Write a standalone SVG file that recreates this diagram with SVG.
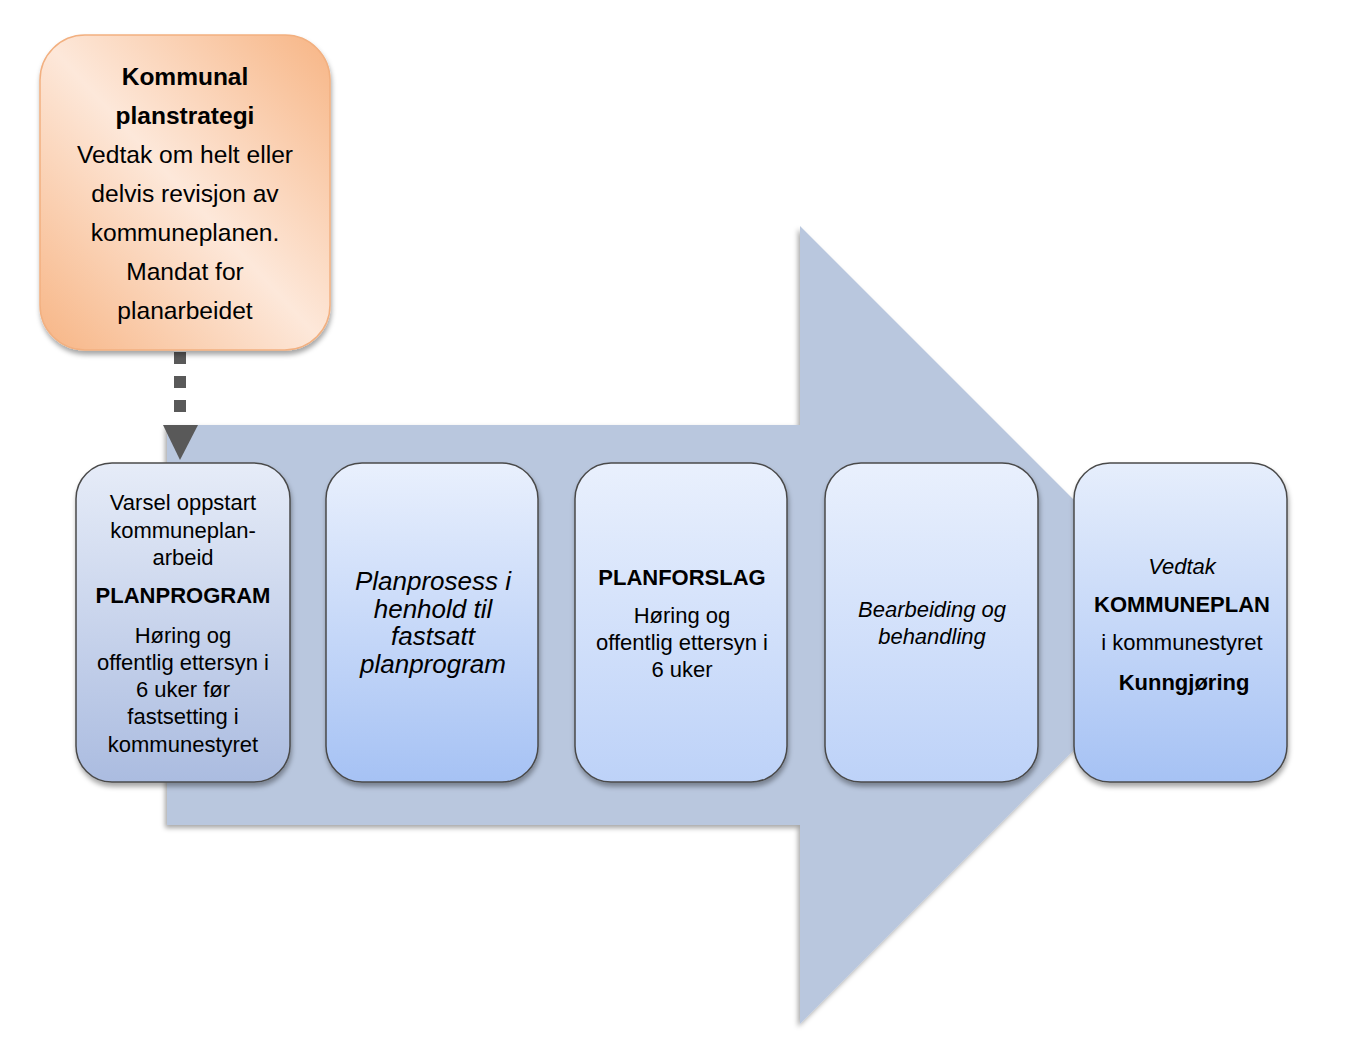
<svg xmlns="http://www.w3.org/2000/svg" width="1346" height="1052" viewBox="0 0 1346 1052">
<defs>
<filter id="sh" x="-10%" y="-10%" width="120%" height="120%">
<feDropShadow dx="-2" dy="3" stdDeviation="2.5" flood-color="#000" flood-opacity="0.35"/>
</filter>
<filter id="bsh" x="-10%" y="-10%" width="125%" height="125%">
<feDropShadow dx="1" dy="4" stdDeviation="2.5" flood-color="#000" flood-opacity="0.35"/>
</filter>
<linearGradient id="gOr" x1="0" y1="1" x2="1" y2="0">
<stop offset="0" stop-color="#f7b585"/>
<stop offset="0.5" stop-color="#fde8da"/>
<stop offset="1" stop-color="#f7b585"/>
</linearGradient>
<linearGradient id="g1" x1="0" y1="0" x2="0" y2="1">
<stop offset="0" stop-color="#e6ecf8"/>
<stop offset="1" stop-color="#abbce0"/>
</linearGradient>
<linearGradient id="g2" x1="0" y1="0" x2="0" y2="1">
<stop offset="0" stop-color="#e9f0fd"/>
<stop offset="1" stop-color="#a6c2f4"/>
</linearGradient>
<linearGradient id="g3" x1="0" y1="0" x2="0" y2="1">
<stop offset="0" stop-color="#e9f0fd"/>
<stop offset="1" stop-color="#bdd2f8"/>
</linearGradient>
<linearGradient id="g5" x1="0" y1="0" x2="0" y2="1">
<stop offset="0" stop-color="#e6eefc"/>
<stop offset="1" stop-color="#a6c2f4"/>
</linearGradient>
</defs>
<style>
text{font-family:"Liberation Sans",Arial,sans-serif;fill:#000;text-anchor:middle}
.b{font-weight:bold}
.i{font-style:italic}
.s22{font-size:22px}
.box{stroke:#4a4a4a;stroke-width:1.5}
</style>
<rect width="1346" height="1052" fill="#fff"/>

<g id="big-arrow">
<polygon points="167,425 800,425 800,226 1199,625 800,1024 800,825 167,825" fill="#b9c7de" filter="url(#sh)"/>
</g>

<g id="connectors">
<line x1="180" y1="352" x2="180" y2="414" stroke="#595959" stroke-width="12" stroke-dasharray="12 12"/>
<polygon points="163,425 198,425 180,460" fill="#595959"/>
</g>

<g id="node-strategi">
<rect x="40" y="35" width="290" height="315" rx="45" fill="url(#gOr)" stroke="#f2b080" stroke-width="1.5" filter="url(#bsh)"/>
<text x="185" y="85" class="b" font-size="24.5">Kommunal</text>
<text x="185" y="124" class="b" font-size="24.5">planstrategi</text>
<text x="185" y="163" font-size="24.6">Vedtak om helt eller</text>
<text x="185" y="202" font-size="24.6">delvis revisjon av</text>
<text x="185" y="241" font-size="24.6">kommuneplanen.</text>
<text x="185" y="280" font-size="24.6">Mandat for</text>
<text x="185" y="319" font-size="24.6">planarbeidet</text>
</g>

<g id="node-planprogram">
<rect class="box" x="76" y="463" width="214" height="319" rx="36" fill="url(#g1)" filter="url(#bsh)"/>
<text class="s22" x="183" y="510">Varsel oppstart</text>
<text class="s22" x="183" y="538">kommuneplan-</text>
<text class="s22" x="183" y="565">arbeid</text>
<text class="s22 b" x="183" y="603">PLANPROGRAM</text>
<text class="s22" x="183" y="643">Høring og</text>
<text class="s22" x="183" y="670">offentlig ettersyn i</text>
<text class="s22" x="183" y="697">6 uker før</text>
<text class="s22" x="183" y="724">fastsetting i</text>
<text class="s22" x="183" y="752">kommunestyret</text>
</g>

<g id="node-planprosess">
<rect class="box" x="326" y="463" width="212" height="319" rx="36" fill="url(#g2)" filter="url(#bsh)"/>
<text class="i" font-size="26" x="433" y="590">Planprosess i</text>
<text class="i" font-size="26" x="433" y="618">henhold til</text>
<text class="i" font-size="26" x="433" y="645">fastsatt</text>
<text class="i" font-size="26" x="433" y="673">planprogram</text>
</g>

<g id="node-planforslag">
<rect class="box" x="575" y="463" width="212" height="319" rx="36" fill="url(#g3)" filter="url(#bsh)"/>
<text class="s22 b" x="682" y="585">PLANFORSLAG</text>
<text class="s22" x="682" y="623">Høring og</text>
<text class="s22" x="682" y="650">offentlig ettersyn i</text>
<text class="s22" x="682" y="677">6 uker</text>
</g>

<g id="node-bearbeiding">
<rect class="box" x="825" y="463" width="213" height="319" rx="36" fill="url(#g3)" filter="url(#bsh)"/>
<text class="s22 i" x="932" y="617">Bearbeiding og</text>
<text class="s22 i" x="932" y="644">behandling</text>
</g>

<g id="node-vedtak">
<rect class="box" x="1074" y="463" width="213" height="319" rx="36" fill="url(#g5)" filter="url(#bsh)"/>
<text class="s22 i" x="1182" y="574">Vedtak</text>
<text class="s22 b" x="1182" y="612">KOMMUNEPLAN</text>
<text class="s22" x="1182" y="650">i kommunestyret</text>
<text class="s22 b" x="1184" y="690">Kunngjøring</text>
</g>
</svg>
